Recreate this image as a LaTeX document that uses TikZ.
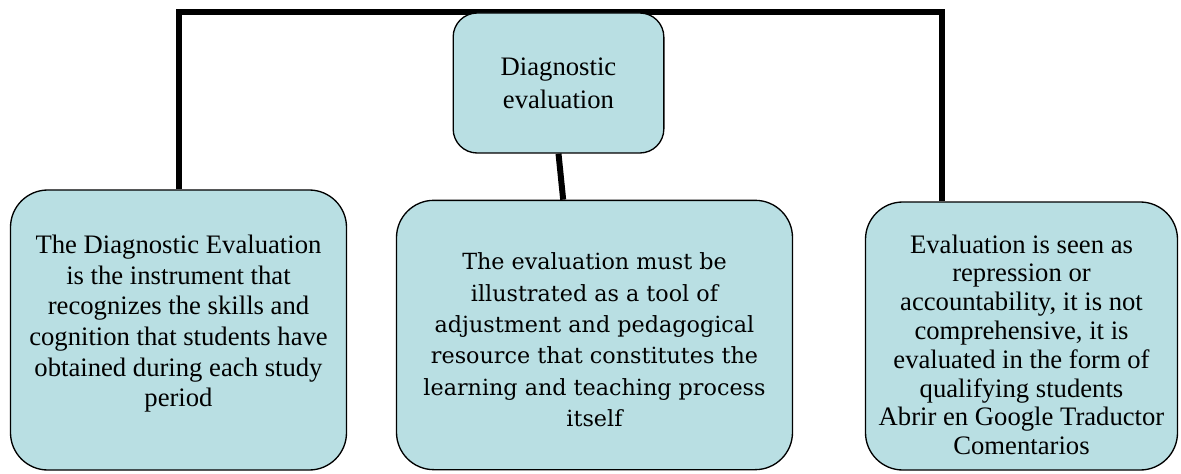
\documentclass[tikz,border=0pt]{standalone}
\usepackage{fontspec}
\setmainfont{Liberation Serif}
\newfontfamily\midfont{DejaVu Serif}
\usepackage{tikz}
\pgfdeclarelayer{back}
\pgfsetlayers{back,main}
\definecolor{boxblue}{RGB}{185,223,227}
\tikzset{
	box/.style={draw=black, line width=1pt, fill=boxblue, align=center, inner sep=0pt},
	link/.style={black, line width=4.5pt}
}

\begin{document}
\begin{tikzpicture}[x=0.75pt, y=-0.75pt]
	\useasboundingbox (0,0) rectangle (1181,474);

	% top box
	\node[box, rounded corners=18pt, minimum width=158pt, minimum height=105pt, font=\fontsize{20}{25}\selectfont] (diag) at (558.5,83) {Diagnostic\\evaluation};

	% boxes below
	\node[box, rounded corners=28pt, minimum width=252pt, minimum height=210pt, font=\fontsize{20}{23}\selectfont] (left) at (178.5,330)
		{The Diagnostic Evaluation\\is the instrument that\\recognizes the skills and\\cognition that students have\\obtained during each study\\period\\[-9.5pt]};
	\node[box, rounded corners=28pt, minimum width=297pt, minimum height=202pt, font=\midfont\fontsize{16.7}{23.5}\selectfont] (mid) at (594.5,335)
		{\rule{0pt}{20pt}The evaluation must be\\illustrated as a tool of\\adjustment and pedagogical\\resource that constitutes the\\learning and teaching process\\itself};
	\node[box, rounded corners=28pt, minimum width=234pt, minimum height=201pt, font=\fontsize{20}{21.6}\selectfont] (right) at (1021.5,336)
		{\rule{0pt}{27pt}Evaluation is seen as\\repression or\\accountability, it is not\\comprehensive, it is\\evaluated in the form of\\qualifying students\\Abrir en Google Traductor\\Comentarios};

	% connectors
	\begin{pgfonlayer}{back}
		\draw[link] (left.north) |- (diag.north) -| ([xshift=-59.5pt]right.north);
		\draw[link] (diag.south) -- ([xshift=-23.5pt]mid.north);
	\end{pgfonlayer}
\end{tikzpicture}
\end{document}
